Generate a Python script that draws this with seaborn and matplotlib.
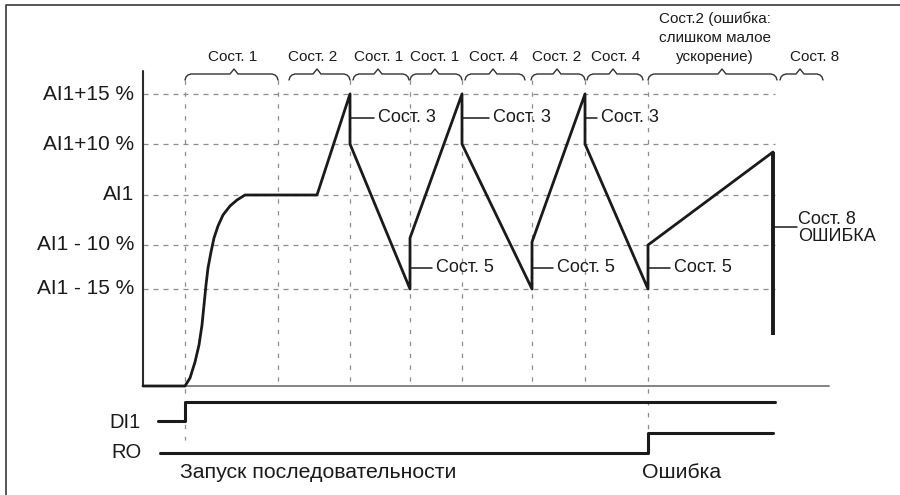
import matplotlib
matplotlib.use("Agg")
import matplotlib.pyplot as plt
import seaborn as sns
import pandas as pd

sns.set_theme(style="white")
plt.rcParams["font.family"] = ["Liberation Sans", "DejaVu Sans"]

INK = "#1a1a1a"
GRID = "#8c8c8c"

# Reference levels of the analog input (drawing units, top = small)
level_names = ["AI1+15 %", "AI1+10 %", "AI1", "AI1 - 10 %", "AI1 - 15 %"]
level_pos = [94, 144, 195, 245, 289]
zero_level = 386

# Time marks where the state changes
t_marks = [185, 278, 350, 410, 462, 532, 585, 648]
t_axis = 143
t_grid_end = 775
t_base_end = 829

# Analog input trace
ai_t = [143, 185, 190, 195, 199, 202, 204, 206, 208, 211, 214, 218, 223, 230, 237, 245,
        317, 350, 350, 410, 410, 462, 462, 532, 532, 585, 585, 648, 648, 773]
ai_v = [386, 386, 378, 362, 345, 325, 305, 285, 268, 252, 238, 226, 215, 206, 200, 195,
        195, 94, 144, 289, 238, 94, 144, 289, 242, 94, 144, 289, 245, 152]
# Fault drop at the end of the run
fault_t = [773, 773]
fault_v = [152, 335]

# Digital input DI1 and relay output RO
di_t = [158, 185, 185, 775]
di_v = [421, 421, 402, 402]
ro_t = [160, 648, 648, 773]
ro_v = [453, 453, 433, 433]

# State braces along the top: (start, end, apex, label)
brace_start = [185, 289, 353, 410, 465, 531, 587, 648, 780]
brace_end = [278, 350, 409, 462, 525, 585, 643, 777, 823]
brace_apex = [234, 317, 378, 435, 493, 557, 613, 722, 800]
brace_label = ["Сост. 1", "Сост. 2", "Сост. 1", "Сост. 1", "Сост. 4",
               "Сост. 2", "Сост. 4", "Сост.2 (ошибка:\nслишком малое\nускорение)", "Сост. 8"]
brace_label_x = [233, 313, 379, 435, 494, 557, 616, 715, 815]

# Callouts on the trace: (x of trace, y, leader end, text)
call_x = [350, 462, 585, 410, 532, 648]
call_y = [118, 118, 118, 268, 268, 268]
call_end = [374, 489, 597, 432, 553, 670]
call_text = ["Сост. 3", "Сост. 3", "Сост. 3", "Сост. 5", "Сост. 5", "Сост. 5"]

fig = plt.figure(figsize=(9, 4.95), dpi=100)
ax = fig.add_axes([0, 0, 1, 1])

# frame
ax.plot([6, 6, 900], [495, 5, 5], color="#3a3a3a", lw=1.2, solid_capstyle="butt")

# horizontal reference grid
for y in level_pos:
    ax.plot([t_axis, t_grid_end], [y, y], color=GRID, lw=0.9, ls=(0, (4, 4)))

# vertical state marks
v_bottom = {185: 440, 648: 433}
for x in t_marks:
    ax.plot([x, x], [80, v_bottom.get(x, zero_level)], color=GRID, lw=0.9, ls=(0, (3.5, 6)))

# baseline and axis
ax.plot([t_axis, t_base_end], [zero_level, zero_level], color="#7a7a7a", lw=1.3)
ax.plot([t_axis, t_axis], [71, zero_level], color="#2a2a2a", lw=1.5)

# level labels
for name, y in zip(level_names, level_pos):
    ax.text(134, y, name, ha="right", va="center", fontsize=15, color=INK)

# signals
ai = pd.DataFrame({"t": ai_t, "v": ai_v})
sns.lineplot(data=ai, x="t", y="v", sort=False, estimator=None, color=INK, lw=2.0, ax=ax)
ax.plot(fault_t, fault_v, color=INK, lw=2.8, solid_capstyle="butt")
sns.lineplot(x=di_t, y=di_v, sort=False, estimator=None, color=INK, lw=2.2, ax=ax)
sns.lineplot(x=ro_t, y=ro_v, sort=False, estimator=None, color=INK, lw=2.2, ax=ax)
ax.set_xlim(0, 900)
ax.set_ylim(495, 0)
ax.axis("off")

ax.text(141, 423, "DI1", ha="right", va="center", fontsize=14.5, color=INK)
ax.text(142, 452, "RO", ha="right", va="center", fontsize=14.5, color=INK)

# braces
for x0, x1, xp, lab, lx in zip(brace_start, brace_end, brace_apex, brace_label, brace_label_x):
    bx = [x0, x0 + 1, x0 + 3, x0 + 6, xp - 4, xp, xp + 4, x1 - 6, x1 - 3, x1 - 1, x1]
    by = [80, 77, 75, 74, 74, 69, 74, 74, 75, 77, 80]
    ax.plot(bx, by, color="#333333", lw=1.0)
    nlines = lab.count("\n")
    ax.text(lx, 64, lab, ha="center", va="bottom", fontsize=11, color=INK,
            linespacing=1.45 if nlines else 1.0)

# callouts
for x, y, xe, txt in zip(call_x, call_y, call_end, call_text):
    ax.plot([x, xe], [y, y], color=INK, lw=1.1)
    ax.text(xe + 4, y, txt, ha="left", va="center", fontsize=13, color=INK)

ax.plot([773, 797], [227, 227], color=INK, lw=1.1)
ax.text(798, 228, "Сост. 8\nОШИБКА", ha="left", va="center", fontsize=13,
        color=INK, linespacing=1.05)

# event labels
ax.text(180, 473, "Запуск последовательности", ha="left", va="center", fontsize=15.3, color=INK)
ax.text(642, 473, "Ошибка", ha="left", va="center", fontsize=15.3, color=INK)

fig.savefig("out.png", dpi=100)
